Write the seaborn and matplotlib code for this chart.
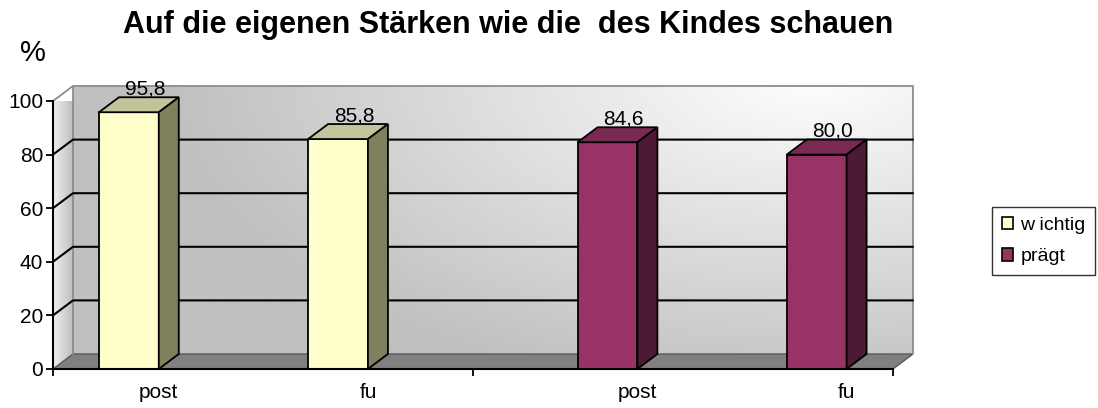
import numpy as np
import pandas as pd
import matplotlib
matplotlib.use("Agg")
import matplotlib.pyplot as plt
import seaborn as sns
from matplotlib.patches import Polygon, Patch
from matplotlib.lines import Line2D

# ---------------- data ----------------
groups = ["wichtig", "wichtig", "prägt", "prägt"]
times = ["post", "fu", "post", "fu"]
values = [95.8, 85.8, 84.6, 80.0]
value_labels = ["95,8", "85,8", "84,6", "80,0"]
group_order = ["wichtig", "prägt"]
legend_labels = ["w ichtig", "prägt"]
time_order = ["post", "fu"]
yticks = [0, 20, 40, 60, 80, 100]
title = "Auf die eigenen Stärken wie die  des Kindes schauen"
y_unit = "%"

# ---------------- style ----------------
sns.set_style("white")
plt.rcParams["font.family"] = ["Liberation Sans", "DejaVu Sans"]
plt.rcParams["text.color"] = "black"
plt.rcParams["xtick.color"] = "black"
plt.rcParams["ytick.color"] = "black"
plt.rcParams["axes.labelcolor"] = "black"

colors = {
    "wichtig": ("#FFFFCC", "#C4C49C", "#80805F"),
    "prägt": ("#993366", "#7A2952", "#4D1A33"),
}

W, H = 1098, 408
fig = plt.figure(figsize=(W / 100, H / 100), dpi=100)
ax = fig.add_axes([53 / W, (H - 369) / H, 840 / W, 268 / H])
ax.patch.set_alpha(0)

df = pd.DataFrame({"group": groups, "time": times, "value": values})
sns.barplot(data=df, x="group", y="value", hue="time", order=group_order,
            hue_order=time_order, width=0.874, gap=0.714,
            palette=["#FFFFCC", "#FFFFCC"], edgecolor="black", linewidth=1.3,
            legend=False, errorbar=None, ax=ax, zorder=3)

XL = (-0.377, 1.378)
ax.set_xlim(*XL)
ax.set_ylim(0, 100)

DX, DY = 20, 15  # depth offset in pixels


def back(x, y):
    p = ax.transData.transform((x, y)) + np.array([DX, DY])
    return tuple(ax.transData.inverted().transform(p))


# back wall gradient
bx0, by0 = back(XL[0], 0)
bx1, by1 = back(XL[1], 100)
nu, nt = 240, 120
u = np.linspace(0, 1, nu)[None, :]
t = np.linspace(0, 1, nt)[:, None]
dist = np.sqrt(((u - 0.88) * 840 / 640) ** 2 + ((t - 1.05) * 270 / 330) ** 2)
img = 254 - 62 * np.clip(dist, 0, 1)
im = ax.imshow(img, origin="lower", extent=[bx0, bx1, by0, by1], cmap="gray",
               vmin=0, vmax=255, aspect="auto", interpolation="bilinear", zorder=0.5)
im.set_clip_on(False)

# left wall
lw_poly = Polygon([(XL[0], 0), (XL[0], 100), back(XL[0], 100), back(XL[0], 0)],
                  closed=True, facecolor="none", edgecolor="none", clip_on=False)
ax.add_patch(lw_poly)
lx0 = XL[0]
lx1 = back(XL[0], 0)[0]
gl = np.linspace(0, 1, 50)[None, :]
limg = np.repeat(240 - 50 * gl, 10, axis=0)
im2 = ax.imshow(limg, origin="lower", extent=[lx0, lx1, 0, by1], cmap="gray",
                vmin=0, vmax=255, aspect="auto", interpolation="bilinear", zorder=0.5)
im2.set_clip_path(lw_poly)

# floor
floor = Polygon([(XL[0], 0), (XL[1], 0), back(XL[1], 0), back(XL[0], 0)], closed=True,
                facecolor="#808080", edgecolor="#5a5a5a", linewidth=1.0,
                clip_on=False, zorder=0.6)
ax.add_patch(floor)

# wall outlines
ax.add_line(Line2D([bx0, bx1, bx1], [by1, by1, by0], color="#8c8c8c", lw=1.3,
                   clip_on=False, zorder=0.7))
ax.add_line(Line2D([XL[0], bx0, bx0], [100, by1, by0], color="#8c8c8c", lw=1.3,
                   clip_on=False, zorder=0.7))

# gridlines on back and left walls
for v in yticks[1:-1]:
    p0 = back(XL[0], v)
    p1 = back(XL[1], v)
    ax.add_line(Line2D([XL[0], p0[0], p1[0]], [v, p0[1], p1[1]], color="black",
                       lw=1.5, clip_on=False, zorder=0.8))

# 3D faces of bars and labels
for hi, cont in enumerate(ax.containers):
    for xi, bar in enumerate(cont):
        g = group_order[xi]
        tm = time_order[hi]
        idx = [i for i in range(len(groups)) if groups[i] == g and times[i] == tm][0]
        front, top, side = colors[g]
        bar.set_facecolor(front)
        x0, w, h = bar.get_x(), bar.get_width(), bar.get_height()
        topf = Polygon([(x0, h), (x0 + w, h), back(x0 + w, h), back(x0, h)], closed=True,
                       facecolor=top, edgecolor="black", linewidth=1.3, clip_on=False, zorder=3)
        sidef = Polygon([(x0 + w, 0), (x0 + w, h), back(x0 + w, h), back(x0 + w, 0)],
                        closed=True, facecolor=side, edgecolor="black", linewidth=1.3,
                        clip_on=False, zorder=3)
        ax.add_patch(topf)
        ax.add_patch(sidef)
        xc = x0 + w / 2
        ax.annotate(value_labels[idx], xy=(xc, h), xytext=(16, 18),
                    textcoords="offset pixels", ha="center", va="baseline",
                    fontsize=15, color="black", annotation_clip=False, zorder=4)
        ax.annotate(tm, xy=(xc, 0), xytext=(30, -24), textcoords="offset pixels",
                    ha="center", va="center", fontsize=15, color="black",
                    annotation_clip=False)

# axes styling
for s in ["top", "right"]:
    ax.spines[s].set_visible(False)
for s in ["left", "bottom"]:
    ax.spines[s].set_color("black")
    ax.spines[s].set_linewidth(1.5)
    ax.spines[s].set_zorder(5)
ax.set_yticks(yticks)
ax.set_yticklabels([str(v) for v in yticks], fontsize=15, color="black")
ax.set_xticks([XL[0], 0.5, XL[1]])
ax.set_xticklabels(["", "", ""])
ax.tick_params(axis="both", direction="out", length=5, width=1.3, color="black",
               labelcolor="black", left=True, bottom=True, pad=2)
ax.set_xlabel("")
ax.set_ylabel("")
ax.set_xlim(*XL)
ax.set_ylim(0, 100)

fig.text(508 / W, 1 - 25 / H, title, ha="center", va="center", fontsize=22,
         fontweight="bold", color="black")
fig.text(33 / W, 1 - 53 / H, y_unit, ha="center", va="center", fontsize=21,
         color="black")

handles = [Patch(facecolor=colors[g][0], edgecolor="black", linewidth=1.2)
           for g in group_order]
leg = fig.legend(handles, legend_labels, loc="upper left",
                 bbox_to_anchor=(992 / W, 1 - 207 / H), fontsize=14, frameon=True,
                 fancybox=False, edgecolor="black", handlelength=0.6,
                 handleheight=0.6, handletextpad=0.35, borderpad=0.5,
                 labelspacing=0.75, borderaxespad=0)
leg.get_frame().set_linewidth(1.0)
for txt in leg.get_texts():
    txt.set_color("black")

fig.savefig("out.png", dpi=100)
